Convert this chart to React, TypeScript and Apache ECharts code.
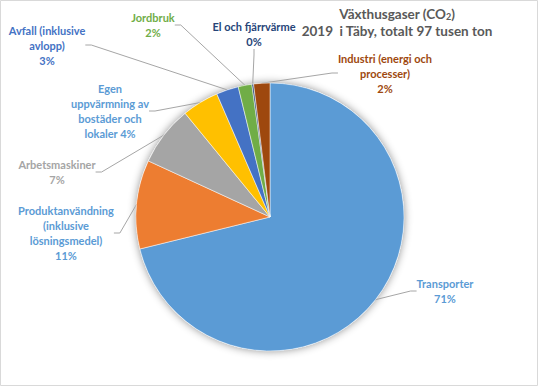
import React, { useEffect, useRef } from "react";
import * as echarts from "echarts";

// Växthusgaser 2019 i Täby (tusen ton CO2), totalt 97
const categories = [
  "Transporter",
  "Produktanvändning (inklusive lösningsmedel)",
  "Arbetsmaskiner",
  "Egen uppvärmning av bostäder och lokaler",
  "Avfall (inklusive avlopp)",
  "Jordbruk",
  "El och fjärrvärme",
  "Industri (energi och processer)",
];
const values = [69.1, 10.4, 7.0, 4.3, 2.6, 1.6, 0.2, 1.9];
const labelTemplates = [
  "Transporter\n{d}%",
  "Produktanvändning\n(inklusive\nlösningsmedel)\n{d}%",
  "Arbetsmaskiner\n{d}%",
  "Egen\nuppvärmning av\nbostäder och\nlokaler {d}%",
  "Avfall (inklusive\navlopp)\n{d}%",
  "Jordbruk\n{d}%",
  "El och fjärrvärme\n{d}%",
  "Industri (energi och\nprocesser)\n{d}%",
];
const sliceColors = ["#5B9BD5", "#ED7D31", "#A5A5A5", "#FFC000", "#4472C4", "#70AD47", "#264478", "#9E480E"];
const labelColors = ["#5B9BD5", "#5B9BD5", "#A5A5A5", "#5B9BD5", "#4472C4", "#70AD47", "#264478", "#9E480E"];
// label block centres (layout)
const labelPos: [number, number][] = [
  [445, 291],
  [66, 233],
  [57, 172],
  [110, 111],
  [47, 45],
  [153, 25],
  [254, 34],
  [385, 73],
];

const FONT = "Lato, 'Liberation Sans', sans-serif";

export default function App() {
  const ref = useRef<HTMLDivElement>(null);
  useEffect(() => {
    if (!ref.current) return;
    const chart = echarts.init(ref.current, null, { renderer: "svg" });
    chart.setOption({
      animation: false,
      backgroundColor: "#ffffff",
      title: {
        text: "Växthusgaser (CO{sub|2})\n2019  i Täby, totalt 97 tusen ton",
        left: 397,
        top: 5,
        padding: 0,
        textAlign: "center",
        textStyle: {
          fontFamily: FONT,
          fontSize: 13.5,
          fontWeight: "bold",
          color: "#595959",
          lineHeight: 17,
          rich: {
            sub: {
              fontFamily: FONT,
              fontSize: 9,
              fontWeight: "bold",
              color: "#595959",
              verticalAlign: "bottom",
              lineHeight: 17,
              padding: [0, 0, 1, 0],
            },
          },
        },
      },
      graphic: [
        {
          type: "rect",
          shape: { x: 0.5, y: 0.5, width: 537, height: 385 },
          style: { fill: "none", stroke: "#D9D9D9", lineWidth: 1 },
          silent: true,
        },
      ],
      series: [
        {
          type: "pie",
          z: 1,
          silent: true,
          center: [270, 217],
          radius: 134,
          label: { show: false },
          labelLine: { show: false },
          itemStyle: { color: "#ffffff", shadowBlur: 8, shadowColor: "rgba(0,0,0,0.45)" },
          data: [{ value: 1, name: "" }],
        },
        {
          type: "pie",
          z: 2,
          center: [270, 217],
          radius: 134,
          startAngle: 90,
          clockwise: true,
          avoidLabelOverlap: false,
          percentPrecision: 0,
          itemStyle: { borderColor: "#ffffff", borderWidth: 0.5 },
          label: {
            show: true,
            position: "outside",
            fontFamily: FONT,
            fontSize: 11,
            fontWeight: "bold",
            lineHeight: 15,
            align: "center",
          },
          labelLine: {
            show: true,
            length: 10,
            length2: 6,
            lineStyle: { color: "#A6A6A6", width: 1 },
          },
          labelLayout: (params: any) => {
            const p = labelPos[params.dataIndex];
            return { x: p[0], y: p[1], align: "center", verticalAlign: "middle" };
          },
          data: categories.map((name, i) => ({
            name,
            value: values[i],
            itemStyle: { color: sliceColors[i] },
            label: { formatter: labelTemplates[i], color: labelColors[i] },
          })),
        },
      ],
    });
    return () => chart.dispose();
  }, []);
  return (
    <div
      ref={ref}
      style={{ position: "fixed", left: 0, top: 0, width: 538, height: 386 }}
    />
  );
}
